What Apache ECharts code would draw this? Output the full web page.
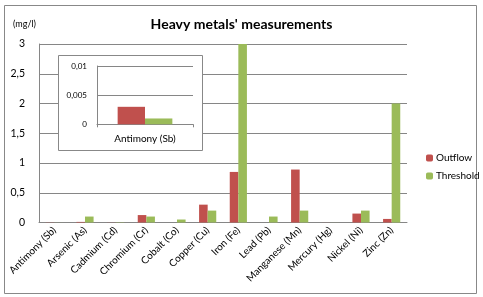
<!DOCTYPE html>
<html><head><meta charset="utf-8">
<script src="https://cdn.jsdelivr.net/npm/echarts@6/dist/echarts.min.js"></script>
<style>html,body{margin:0;padding:0;background:#fff}#c{width:483px;height:297px}</style>
</head><body><div id="c"></div>
<script>
var categories = ['Antimony (Sb)','Arsenic (As)','Cadmium (Cd)','Chromium (Cr)','Cobalt (Co)','Copper (Cu)','Iron (Fe)','Lead (Pb)','Manganese (Mn)','Mercury (Hg)','Nickel (Ni)','Zinc (Zn)'];
var outflow = [0.003, 0.01, 0.002, 0.125, 0, 0.3, 0.85, 0, 0.89, 0.001, 0.15, 0.06];
var threshold = [0.001, 0.1, 0.005, 0.1, 0.05, 0.2, 3, 0.1, 0.2, 0.001, 0.2, 2];
var insetCategories = ['Antimony (Sb)'];
var insetOutflow = [0.003];
var insetThreshold = [0.001];
var FONT = 'Lato';
function fmt(v){ return String(v).replace('.', ','); }
var chart = echarts.init(document.getElementById('c'));
chart.setOption({
  animation: false,
  textStyle: {fontFamily: FONT},
  title: {text: "Heavy metals' measurements", left: 'center', top: 12,
    textStyle: {fontFamily: FONT, fontSize: 14, fontWeight: 'bold', color: '#000'}},
  legend: {orient: 'vertical', left: 421, top: 148, itemWidth: 7, itemHeight: 7, itemGap: 8,
    data: ['Outflow','Threshold'], textStyle: {fontFamily: FONT, fontSize: 10, color: '#000', padding:[0,0,0,-2]}},
  graphic: [
    {type: 'rect', z: -10, shape: {x: 4.5, y: 5.5, width: 472, height: 288}, style: {fill: '#fff', stroke: '#888', lineWidth: 1}},
    {type: 'text', left: 13, top: 20, style: {text: '(mg/l)', font: '9px ' + FONT, fill: '#000'}},
    {type: 'rect', z: 5, shape: {x: 58.5, y: 55.5, width: 144, height: 95}, style: {fill: '#fff', stroke: '#888', lineWidth: 1}}
  ],
  grid: [
    {left: 39, right: 76, top: 44, bottom: 74.5},
    {left: 97, right: 290, top: 66, bottom: 172.7, z: 10}
  ],
  xAxis: [
    {type: 'category', gridIndex: 0, data: categories,
      axisLine: {lineStyle: {color: '#868686'}}, axisTick: {show: false},
      axisLabel: {rotate: 45, fontSize: 10, color: '#000', fontFamily: FONT, interval: 0, margin: 6}},
    {type: 'category', gridIndex: 1, data: insetCategories, z: 10,
      axisLine: {lineStyle: {color: '#868686'}}, axisTick: {show: true, alignWithLabel: false, length: 3, lineStyle:{color:'#868686'}},
      axisLabel: {fontSize: 10, color: '#000', fontFamily: FONT, margin: 9}}
  ],
  yAxis: [
    {type: 'value', gridIndex: 0, min: 0, max: 3, interval: 0.5,
      axisLine: {show: true, lineStyle: {color: '#868686'}},
      splitLine: {lineStyle: {color: '#868686'}},
      axisLabel: {fontSize: 10.5, color: '#000', fontFamily: FONT, margin: 14, formatter: fmt}},
    {type: 'value', gridIndex: 1, min: 0, max: 0.01, interval: 0.005, z: 10,
      axisLine: {show: true, lineStyle: {color: '#868686'}},
      splitLine: {lineStyle: {color: '#868686'}},
      axisLabel: {fontSize: 8, color: '#000', fontFamily: FONT, margin: 10, formatter: fmt}}
  ],
  series: [
    {name: 'Outflow', type: 'bar', xAxisIndex: 0, yAxisIndex: 0, data: outflow, barGap: '0%', barCategoryGap: '44%', itemStyle: {color: '#C0504D'}},
    {name: 'Threshold', type: 'bar', xAxisIndex: 0, yAxisIndex: 0, data: threshold, barGap: '0%', barCategoryGap: '44%', itemStyle: {color: '#9BBB59'}},
    {name: 'Outflow', type: 'bar', xAxisIndex: 1, yAxisIndex: 1, data: insetOutflow, z: 10, barGap: '0%', barCategoryGap: '43%', itemStyle: {color: '#C0504D'}},
    {name: 'Threshold', type: 'bar', xAxisIndex: 1, yAxisIndex: 1, data: insetThreshold, z: 10, barGap: '0%', barCategoryGap: '43%', itemStyle: {color: '#9BBB59'}}
  ]
});
</script></body></html>
